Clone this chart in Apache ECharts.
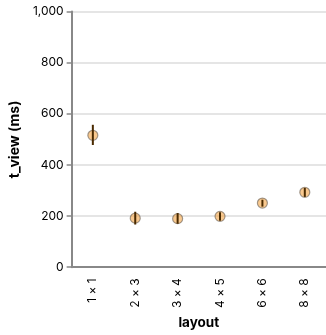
<!DOCTYPE html>
<html><head><meta charset="utf-8">
<script src="https://cdn.jsdelivr.net/npm/echarts@6/dist/echarts.min.js"></script>
<style>html,body{margin:0;padding:0;background:#fff}#c{width:326px;height:335px}</style>
</head><body><div id="c"></div>
<script>
var categories = ["1 × 1", "2 × 3", "3 × 4", "4 × 5", "6 × 6", "8 × 8"];
var means = [516, 192, 190, 199, 251, 293];
var lower = [478, 167, 170, 182, 237, 275];
var upper = [557, 217, 212, 215, 264, 310];
var yTicks = [0, 200, 400, 600, 800, 1000];

var chart = echarts.init(document.getElementById('c'), null, {renderer: 'canvas'});
var font = 'Inter, "Noto Sans", sans-serif';
chart.setOption({
  animation: false,
  grid: {left: 71, top: 11.5, width: 259, height: 258.5, containLabel: false},
  xAxis: {
    type: 'category', data: categories, boundaryGap: true,
    name: 'layout', nameLocation: 'middle', nameGap: 45,
    nameTextStyle: {fontFamily: font, fontWeight: 'bold', fontSize: 13.5, color: '#000'},
    axisLine: {lineStyle: {color: '#888', width: 2}},
    axisTick: {alignWithLabel: true, length: 5, lineStyle: {color: '#888', width: 1.5}},
    axisLabel: {rotate: 90, fontFamily: font, fontSize: 12, color: '#000', margin: 11},
    splitLine: {show: false}
  },
  yAxis: {
    type: 'value', min: 0, max: 1000, interval: 200,
    name: 't_view (ms)', nameLocation: 'middle', nameGap: 39,
    nameTextStyle: {fontFamily: font, fontWeight: 'bold', fontSize: 14, color: '#000'},
    axisLine: {show: true, lineStyle: {color: '#888', width: 2}},
    axisTick: {show: true, length: 5, lineStyle: {color: '#888', width: 1.5}},
    axisLabel: {fontFamily: font, fontSize: 12, color: '#000', margin: 8,
      formatter: function (v) { return v.toLocaleString('en-US'); }},
    splitLine: {lineStyle: {color: '#ddd', width: 1.5}}
  },
  series: [
    {
      type: 'scatter', data: means, symbol: 'circle', symbolSize: 10,
      itemStyle: {color: 'rgba(245,170,80,0.8)', borderColor: 'rgba(110,100,90,0.8)', borderWidth: 1.2},
      z: 2
    },
    {
      type: 'custom', z: 3,
      data: categories.map(function (c, i) { return [i, lower[i], upper[i]]; }),
      encode: {x: 0, y: [1, 2]},
      renderItem: function (params, api) {
        var p1 = api.coord([api.value(0), api.value(1)]);
        var p2 = api.coord([api.value(0), api.value(2)]);
        return {type: 'line', shape: {x1: p1[0], y1: p1[1], x2: p2[0], y2: p2[1]},
          style: {stroke: '#4a2a00', lineWidth: 2}};
      }
    }
  ]
});
</script></body></html>
